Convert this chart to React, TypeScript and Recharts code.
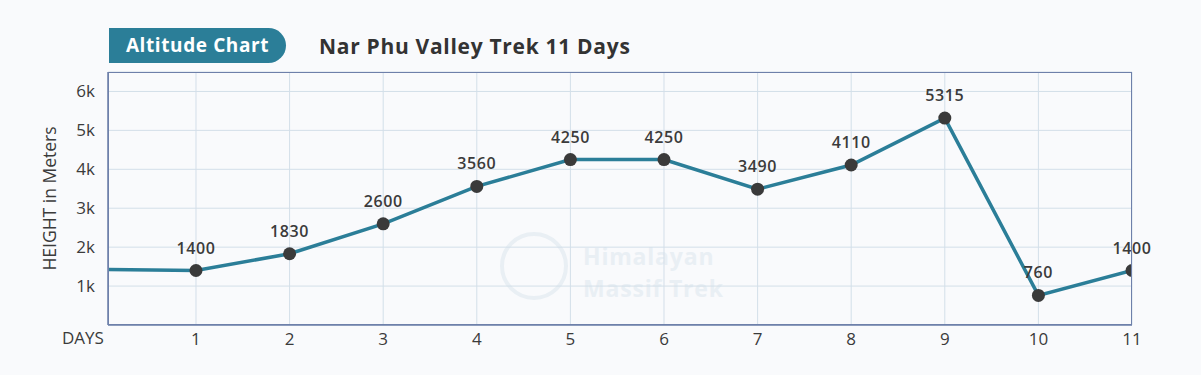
import React from 'react';
import { LineChart, Line, XAxis, YAxis, CartesianGrid, LabelList } from 'recharts';

// trek days (0 = start point, drawn off the left edge)
const days = [0, 1, 2, 3, 4, 5, 6, 7, 8, 9, 10, 11];
const altitudes = [1430, 1400, 1830, 2600, 3560, 4250, 4250, 3490, 4110, 5315, 760, 1400];
const dayTicks = [1, 2, 3, 4, 5, 6, 7, 8, 9, 10, 11];
const heightTicks = [1000, 2000, 3000, 4000, 5000, 6000];

const data = days.map((d, i) => ({ day: d, altitude: altitudes[i] }));

const FONT = '"Open Sans", "Noto Sans", sans-serif';
const TEAL = '#2b7e98';
const TEXT = '#3b3b3b';

const DayTick = ({ x, y, payload }: any) => (
    <text x={x} y={y + 12} textAnchor="middle" fill={TEXT} fontSize={17} fontFamily={FONT}>
        {payload.value}
    </text>
);

const Dot = ({ cx, cy, payload }: any) => {
    if (payload.day === 0) return null;
    return <circle key={payload.day} cx={cx} cy={cy} r={6.5} fill="#3a3a3a" />;
};

const ValueLabel = ({ x, y, value, index }: any) => {
    if (index === 0) return null;
    return (
        <text x={x} y={y - 17} textAnchor="middle" fill={TEXT} fontSize={16} fontWeight={600} letterSpacing={0.6} fontFamily={FONT}>
            {value}
        </text>
    );
};

export default function App() {
    return (
        <div style={{ position: 'absolute', left: 0, top: 0, width: 1201, height: 375, background: '#f9fafc', fontFamily: FONT }}>
            <div style={{
                position: 'absolute', left: 109, top: 28, width: 177, height: 35,
                background: TEAL, borderRadius: '0 18px 18px 0', color: '#fff',
                fontSize: 19, fontWeight: 700, lineHeight: '35px', textAlign: 'center', letterSpacing: 0.6,
            }}>
                Altitude Chart
            </div>
            <div style={{ position: 'absolute', left: 319, top: 32, fontSize: 21, fontWeight: 700, color: '#333', lineHeight: '28px', letterSpacing: 0.7 }}>
                Nar Phu Valley Trek 11 Days
            </div>
            {/* watermark */}
            <div style={{ position: 'absolute', left: 500, top: 232, width: 68, height: 68, borderRadius: '50%', border: '4px solid #e9eff4', boxSizing: 'border-box' }} />
            <div style={{ position: 'absolute', left: 583, top: 241, fontSize: 23, fontWeight: 700, color: '#e9eff4', lineHeight: '30px', letterSpacing: 0.8 }}>
                Himalayan
            </div>
            <div style={{ position: 'absolute', left: 583, top: 273, fontSize: 23, fontWeight: 700, color: '#e9eff4', lineHeight: '30px', letterSpacing: 0.8 }}>
                Massif Trek
            </div>
            <LineChart
                width={1201}
                height={375}
                data={data}
                margin={{ top: 72, right: 69, left: 0, bottom: 0 }}
                style={{ position: 'absolute', left: 0, top: 0 }}
            >
                <CartesianGrid stroke="#d3dfe9" strokeWidth={1} />
                <XAxis
                    dataKey="day"
                    type="number"
                    domain={[0.06, 11]}
                    allowDataOverflow
                    ticks={dayTicks}
                    tick={<DayTick />}
                    tickLine={false}
                    axisLine={{ stroke: '#6e80aa', strokeWidth: 1.5 }}
                    height={50}
                />
                <YAxis
                    domain={[0, 6500]}
                    ticks={heightTicks}
                    tickFormatter={(v: number) => `${v / 1000}k`}
                    tick={{ fill: TEXT, fontSize: 17, fontFamily: FONT }}
                    tickLine={false}
                    tickSize={0}
                    tickMargin={13}
                    axisLine={{ stroke: '#6e80aa', strokeWidth: 1.5 }}
                    width={108}
                    label={{ value: 'HEIGHT in Meters', angle: -90, position: 'insideLeft', offset: 50, style: { fill: TEXT, fontSize: 17.5, fontFamily: FONT, textAnchor: 'middle' } }}
                />
                <Line
                    dataKey="altitude"
                    stroke={TEAL}
                    strokeWidth={3.5}
                    dot={<Dot />}
                    activeDot={false}
                    isAnimationActive={false}
                >
                    <LabelList dataKey="altitude" content={<ValueLabel />} />
                </Line>
            </LineChart>
            <div style={{ position: 'absolute', left: 108, top: 72, width: 1024, height: 253, border: '1.5px solid #6e80aa', boxSizing: 'border-box', pointerEvents: 'none' }} />
            <div style={{ position: 'absolute', left: 62, top: 326, fontSize: 17, color: TEXT, lineHeight: '24px' }}>DAYS</div>
        </div>
    );
}
